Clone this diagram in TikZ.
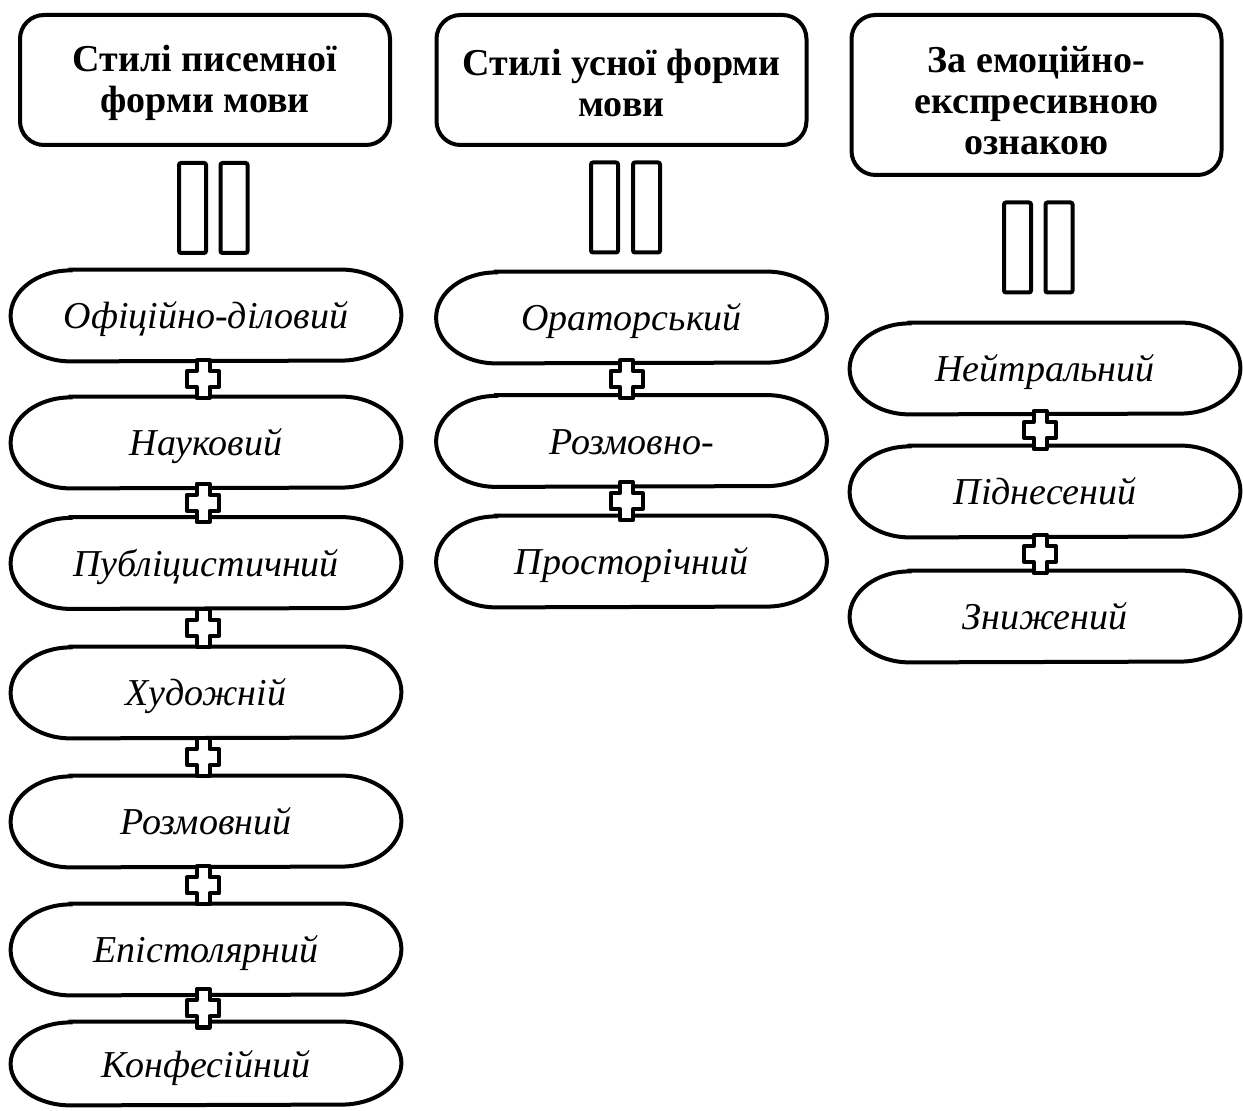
\documentclass[tikz,border=0pt]{standalone}
\usepackage{fontspec}
\setmainfont{Liberation Serif}
\usetikzlibrary{calc}

% Pill-shaped node: name, centre x, centre y, height, text
\newcommand\pillnode[5]{%
  \node[pill, minimum height=#4] (#1) at (#2,#3) {#5};
  \draw[pillline] ([xshift=30pt]#1.north west) -- ([xshift=-30pt]#1.north east)
    arc[start angle=90, end angle=-90, x radius=30pt, y radius=#4/2]
    -- ([xshift=30pt]#1.south west)
    arc[start angle=270, end angle=90, x radius=30pt, y radius=#4/2] -- cycle;}

\begin{document}
\begin{tikzpicture}[x=0.5pt, y=-0.5pt,
  hdr/.style={draw, line width=2pt, rounded corners=12pt,
    inner sep=0pt, minimum width=185pt},
  hdrtext/.style={align=center, inner sep=0pt,
    font=\fontsize{19}{20.5}\selectfont\bfseries},
  pill/.style={inner sep=0pt, minimum width=195pt, text height=17pt, text depth=3.5pt,
    font=\fontsize{19}{21}\selectfont\itshape},
  pillline/.style={line width=2pt},
  bar/.style={draw, line width=2pt, rounded corners=1pt, inner sep=0pt,
    minimum width=13.5pt, minimum height=45pt},
  plusline/.style={draw, line width=2pt, fill=white, line join=round},
  plussign/.pic={\draw[plusline] (-6.5,-19) -- ++(13,0) -- ++(0,11) -- ++(9.5,0)
    -- ++(0,16) -- ++(-9.5,0) -- ++(0,11) -- ++(-13,0) -- ++(0,-11)
    -- ++(-9.5,0) -- ++(0,-16) -- ++(9.5,0) -- cycle;}
]
\useasboundingbox (0,0) rectangle (1243,1111);

% headers
\node[hdr, minimum height=65pt,
  label={[hdrtext, yshift=-1.5pt]center:Стилі писемної\\форми мови}] (h1) at (205,80) {};
\node[hdr, minimum height=65pt,
  label={[hdrtext, yshift=-1.5pt]center:Стилі усної форми\\мови}] (h2) at (621.5,80) {};
\node[hdr, minimum height=80pt,
  label={[hdrtext, yshift=-3pt]center:За емоційно-\\експресивною\\ознакою}] (h3) at (1036.5,95) {};

% double bars under the headers
\node[bar] (b1l) at (192.5,208) {};
\node[bar] (b1r) at (234,208) {};
\node[bar] (b2l) at (604.5,207.5) {};
\node[bar] (b2r) at (646.5,207.5) {};
\node[bar] (b3l) at (1017.5,247.5) {};
\node[bar] (b3r) at (1059,247.5) {};

% column 1
\pillnode{a1}{206}{315.5}{45.5pt}{Офіційно-діловий}
\pillnode{a2}{206}{442.5}{45.5pt}{Науковий}
\pillnode{a3}{206}{563}{45.5pt}{Публіцистичний}
\pillnode{a4}{206}{692.5}{45.5pt}{Художній}
\pillnode{a5}{206}{821.5}{45.5pt}{Розмовний}
\pillnode{a6}{206}{949.5}{45.5pt}{Епістолярний}
\pillnode{a7}{206}{1063.5}{41.5pt}{Конфесійний}

% column 2
\pillnode{o1}{631.5}{317.5}{45.5pt}{Ораторський}
\pillnode{o2}{631.5}{441}{45.5pt}{Розмовно-}
\pillnode{o3}{631.5}{561.5}{45.5pt}{Просторічний}

% column 3
\pillnode{e1}{1045}{368.5}{45.5pt}{Нейтральний}
\pillnode{e2}{1045}{491.5}{45.5pt}{Піднесений}
\pillnode{e3}{1045}{616.5}{45.5pt}{Знижений}

% plus signs joining neighbouring pills
\foreach \u/\v in {a1/a2,a2/a3,a3/a4,a4/a5,a5/a6,a6/a7}
  \pic at ([xshift=-1.5pt]$(\u.south)!0.5!(\v.north)$) {plussign};
\foreach \u/\v in {o1/o2,o2/o3,e1/e2,e2/e3}
  \pic at ([xshift=-2.5pt]$(\u.south)!0.5!(\v.north)$) {plussign};
\end{tikzpicture}
\end{document}
